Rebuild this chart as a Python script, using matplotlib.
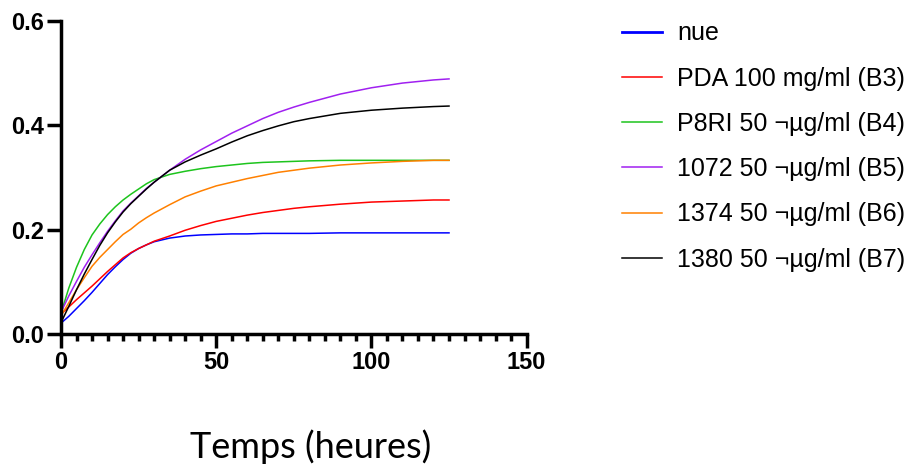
import numpy as np
import matplotlib
matplotlib.use("Agg")
import matplotlib.pyplot as plt
from matplotlib.ticker import MultipleLocator, FormatStrFormatter

# Time points (hours)
temps = [0, 2.5, 5, 7.5, 10, 12.5, 15, 17.5, 20, 22.5, 25, 27.5, 30, 35, 40, 45,
         50, 55, 60, 65, 70, 75, 80, 90, 100, 110, 120, 125]

nue = [0.021, 0.034, 0.049, 0.064, 0.080, 0.097, 0.114, 0.129, 0.143, 0.155,
       0.164, 0.171, 0.177, 0.184, 0.188, 0.190, 0.191, 0.192, 0.192, 0.193,
       0.193, 0.193, 0.193, 0.194, 0.194, 0.194, 0.194, 0.194]
pda = [0.038, 0.052, 0.066, 0.079, 0.092, 0.106, 0.120, 0.133, 0.146, 0.156,
       0.164, 0.171, 0.178, 0.188, 0.199, 0.208, 0.216, 0.222, 0.228, 0.233,
       0.237, 0.241, 0.244, 0.249, 0.253, 0.255, 0.257, 0.257]
p8ri = [0.040, 0.088, 0.128, 0.162, 0.190, 0.211, 0.229, 0.244, 0.257, 0.268,
        0.278, 0.288, 0.296, 0.306, 0.312, 0.317, 0.321, 0.324, 0.327, 0.329,
        0.330, 0.331, 0.332, 0.333, 0.333, 0.333, 0.333, 0.333]
s1072 = [0.042, 0.073, 0.101, 0.128, 0.152, 0.175, 0.197, 0.217, 0.236, 0.251,
         0.265, 0.279, 0.291, 0.314, 0.335, 0.353, 0.369, 0.385, 0.399, 0.413,
         0.425, 0.435, 0.444, 0.460, 0.472, 0.481, 0.487, 0.489]
s1374 = [0.035, 0.060, 0.085, 0.108, 0.130, 0.147, 0.162, 0.177, 0.191, 0.201,
         0.213, 0.223, 0.232, 0.248, 0.263, 0.274, 0.284, 0.291, 0.298, 0.304,
         0.310, 0.314, 0.318, 0.324, 0.328, 0.331, 0.333, 0.333]
s1380 = [0.022, 0.053, 0.085, 0.115, 0.143, 0.170, 0.194, 0.215, 0.234, 0.250,
         0.264, 0.278, 0.291, 0.314, 0.330, 0.343, 0.355, 0.368, 0.380, 0.390,
         0.399, 0.407, 0.413, 0.423, 0.429, 0.433, 0.436, 0.437]

labels = ["nue", "PDA 100 mg/ml (B3)", "P8RI 50 ¬µg/ml (B4)",
          "1072 50 ¬µg/ml (B5)", "1374 50 ¬µg/ml (B6)", "1380 50 ¬µg/ml (B7)"]
series = [nue, pda, p8ri, s1072, s1374, s1380]
colors = ["#0000FF", "#FF0000", "#1DC41D", "#A020F0", "#FF8000", "#000000"]

plt.rcParams["font.family"] = ["Liberation Sans", "DejaVu Sans"]

fig = plt.figure(figsize=(9.13, 4.66), dpi=100)
ax = fig.add_axes([0.0668, 0.283, 0.510, 0.672])

lines = []
for y, c, lab in zip(series, colors, labels):
    ln, = ax.plot(temps, y, color=c, lw=1.1, label=lab)
    lines.append(ln)

ax.set_xlim(0, 150)
ax.set_ylim(0, 0.6)
ax.xaxis.set_major_locator(MultipleLocator(50))
ax.xaxis.set_minor_locator(MultipleLocator(5))
ax.yaxis.set_major_locator(MultipleLocator(0.2))
ax.yaxis.set_major_formatter(FormatStrFormatter("%.1f"))

for side in ["top", "right"]:
    ax.spines[side].set_visible(False)
for side in ["left", "bottom"]:
    ax.spines[side].set_linewidth(2.5)

ax.tick_params(axis="both", which="major", length=10, width=2.5,
               labelsize=17, pad=2)
ax.tick_params(axis="x", which="minor", length=5, width=2.5)
for lab in ax.get_xticklabels() + ax.get_yticklabels():
    lab.set_fontweight("bold")

fig.text(0.3406, 0.018, "Temps (heures)", fontsize=26, family=["Lato", "DejaVu Sans"],
         ha="center", va="baseline")

leg = fig.legend(handles=lines, loc="upper left", bbox_to_anchor=(0.6813, 0.954),
                 frameon=False, fontsize=18, handlelength=1.6, handletextpad=0.6,
                 labelspacing=0.85, borderpad=0, borderaxespad=0)
leg.get_lines()[0].set_linewidth(2.0)

fig.savefig("out.png", dpi=100)
